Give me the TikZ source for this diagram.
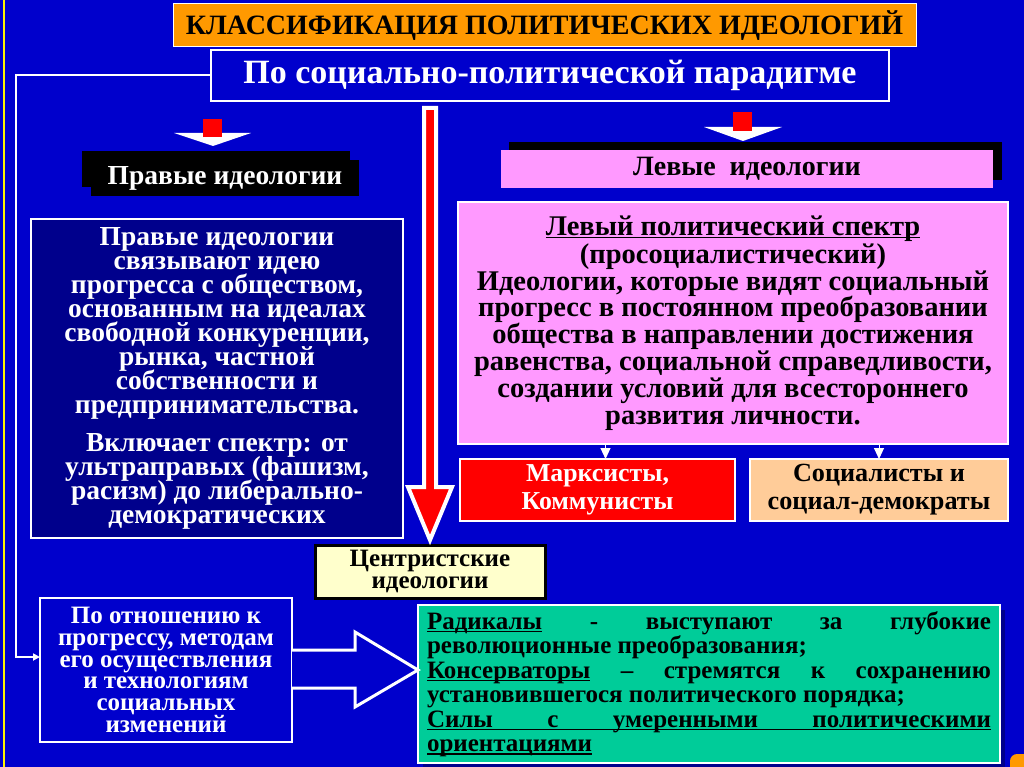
\documentclass[tikz,border=0pt]{standalone}
\usepackage{fontspec}
\setmainfont{Liberation Serif}
\usetikzlibrary{arrows.meta,calc}
\definecolor{bg}{RGB}{0,0,204}
\definecolor{navy}{RGB}{0,0,140}
\definecolor{orng}{RGB}{255,153,0}
\definecolor{pinkc}{RGB}{255,153,255}
\definecolor{peach}{RGB}{255,204,153}
\definecolor{lyel}{RGB}{255,255,204}
\definecolor{tealc}{RGB}{0,204,153}
\definecolor{redc}{RGB}{255,0,0}
\newcommand{\wfs}[2]{\fontsize{#1}{#2}\selectfont\bfseries\lineskiplimit=-60pt\relax}
\newcommand{\myul}[1]{\setbox0\hbox{#1}\rlap{\rule[-3pt]{\wd0}{1.3pt}}\box0}
\tikzset{
  box/.style={rectangle, inner sep=0pt, outer sep=0pt, align=center},
  wbox/.style={box, draw=white, line width=2pt},
}
\begin{document}
\begin{tikzpicture}[x=1pt,y=-1pt]
\clip (0,0) rectangle (1024,767);
\fill[bg] (0,0) rectangle (1024,767);
\draw[yellow, line width=2.5pt] (4,0) -- (4,767);

% title
\node[box, draw=white, line width=1pt, fill=orng, minimum width=743, minimum height=43,
  font={\wfs{28}{30}}] (title) at (544.5,25.5)
  {КЛАССИФИКАЦИЯ ПОЛИТИЧЕСКИХ ИДЕОЛОГИЙ};
\node[wbox, fill=bg, minimum width=678, minimum height=51, text=white,
  font={\wfs{34}{34}}] (sub) at (550,75.5)
  {По социально-политической парадигме};

% left bottom box and connector
\coordinate (c1) at (16,657);
\node[wbox, fill=bg, minimum width=252, minimum height=144, text=white,
  font={\wfs{25}{21.8}}] (lbot) at (166,670)
  {По отношению к\\прогрессу, методам\\его осуществления\\и технологиям\\социальных\\изменений};
\draw[white, line width=2pt, -{Triangle[length=7pt,width=7pt]}] (sub.west) -| (c1) -- (c1 -| lbot.west);

% small down arrows
\fill[white] (174,133) -- (251,133) -- (213,146) -- cycle;
\fill[redc] (203,119) rectangle (222,137);
\fill[white] (704,127) -- (782,127) -- (743,141) -- cycle;
\fill[redc] (733,112) rectangle (752,131);

% Right ideologies header
\fill[black] (82,151) rectangle (350,187);
\node[box, fill=black, minimum width=268, minimum height=36, text=white,
  font={\wfs{27.5}{28}}] (rhead) at (225,178)
  {\raisebox{-3pt}{Правые идеологии}};

% Left ideologies header
\fill[black] (509,142) rectangle (1002,180);
\node[box, fill=pinkc, minimum width=492, minimum height=38,
  font={\wfs{28}{28}}] (lhead) at (747,169)
  {\raisebox{-3pt}{Левые\ \ идеологии}};

% left text box
\node[wbox, fill=navy, minimum width=372, minimum height=319, text=white,
  font={\wfs{27.5}{24}}] (rtext) at (217,378.5)
  {Правые идеологии\\связывают идею\\прогресса с обществом,\\основанным на идеалах\\свободной конкуренции,\\рынка, частной\\собственности и\\предпринимательства.\\[14pt]
   Включает спектр: от\\ультраправых (фашизм,\\расизм) до либерально-\\демократических};

% pink text box
\node[wbox, fill=pinkc, minimum width=550, minimum height=241,
  font={\wfs{28.5}{26.8}}] (ltext) at (733,323)
  {\myul{Левый политический спектр}\\[1pt](просоциалистический)\\Идеологии, которые видят социальный\\прогресс в постоянном преобразовании\\общества в направлении достижения\\равенства, социальной справедливости,\\создании условий для всестороннего\\развития личности.};

% red and peach
\node[wbox, fill=redc, minimum width=275, minimum height=62, text=white,
  font={\wfs{25.8}{28}}] (marx) at (597.5,490)
  {\raisebox{-2pt}{Марксисты,}\\\raisebox{-2pt}{Коммунисты}};
\node[wbox, fill=peach, minimum width=258, minimum height=62,
  font={\wfs{26.2}{28}}] (soc) at (879,490)
  {\raisebox{-2pt}{Социалисты и}\\\raisebox{-2pt}{социал-демократы}};
\coordinate (a1) at ($(ltext.south -| marx.north)+(8,0)$);
\coordinate (a2) at (ltext.south -| soc.north);
\draw[white, line width=1pt, -{Triangle[length=11pt,width=10pt]}] (a1) -- (a1 |- marx.north);
\draw[white, line width=1pt, -{Triangle[length=11pt,width=10pt]}] (a2) -- (a2 |- soc.north);

% centrist
\node[box, draw=black, line width=3pt, fill=lyel, minimum width=230, minimum height=53,
  font={\wfs{25}{22}}] (centr) at (430,571.5)
  {\raisebox{-3pt}{Центристские}\\\raisebox{-3pt}{идеологии}};

% big red arrow
\draw[white, line width=4pt, fill=redc, line join=miter]
  (424,108) -- (436,108) -- (436,487) -- (452,487) -- ($(centr.north)+(0,-5)$) -- (408,487) -- (424,487) -- cycle;

% green box
\fill[navy] (423,610) rectangle (1005,767);
\node[box, align=left, draw=white, line width=1.5pt, fill=tealc, minimum width=582, minimum height=158,
  font={\wfs{25}{24.5}}] (green) at (709,684)
  {\hbox to 564pt{\myul{Радикалы}\hfill -\hfill выступают\hfill за\hfill глубокие}\\
   революционные преобразования;\\
   \hbox to 564pt{\myul{Консерваторы}\hfill –\hfill стремятся\hfill к\hfill сохранению}\\
   установившегося политического порядка;\\
   \myul{\hbox to 564pt{Силы\hfill с\hfill умеренными\hfill политическими}}\\
   \myul{ориентациями}};

% hollow arrow
\draw[white, line width=3pt, fill=bg, line join=miter]
  (lbot.east |- 0,650) -- (355,650) -- (355,632) -- (green.west |- 0,670) -- (355,707) -- (355,688) -- (lbot.east |- 0,688);

% orange corner
\fill[orng, rounded corners=7pt] (1010,754) rectangle (1040,790);
\end{tikzpicture}
\end{document}
